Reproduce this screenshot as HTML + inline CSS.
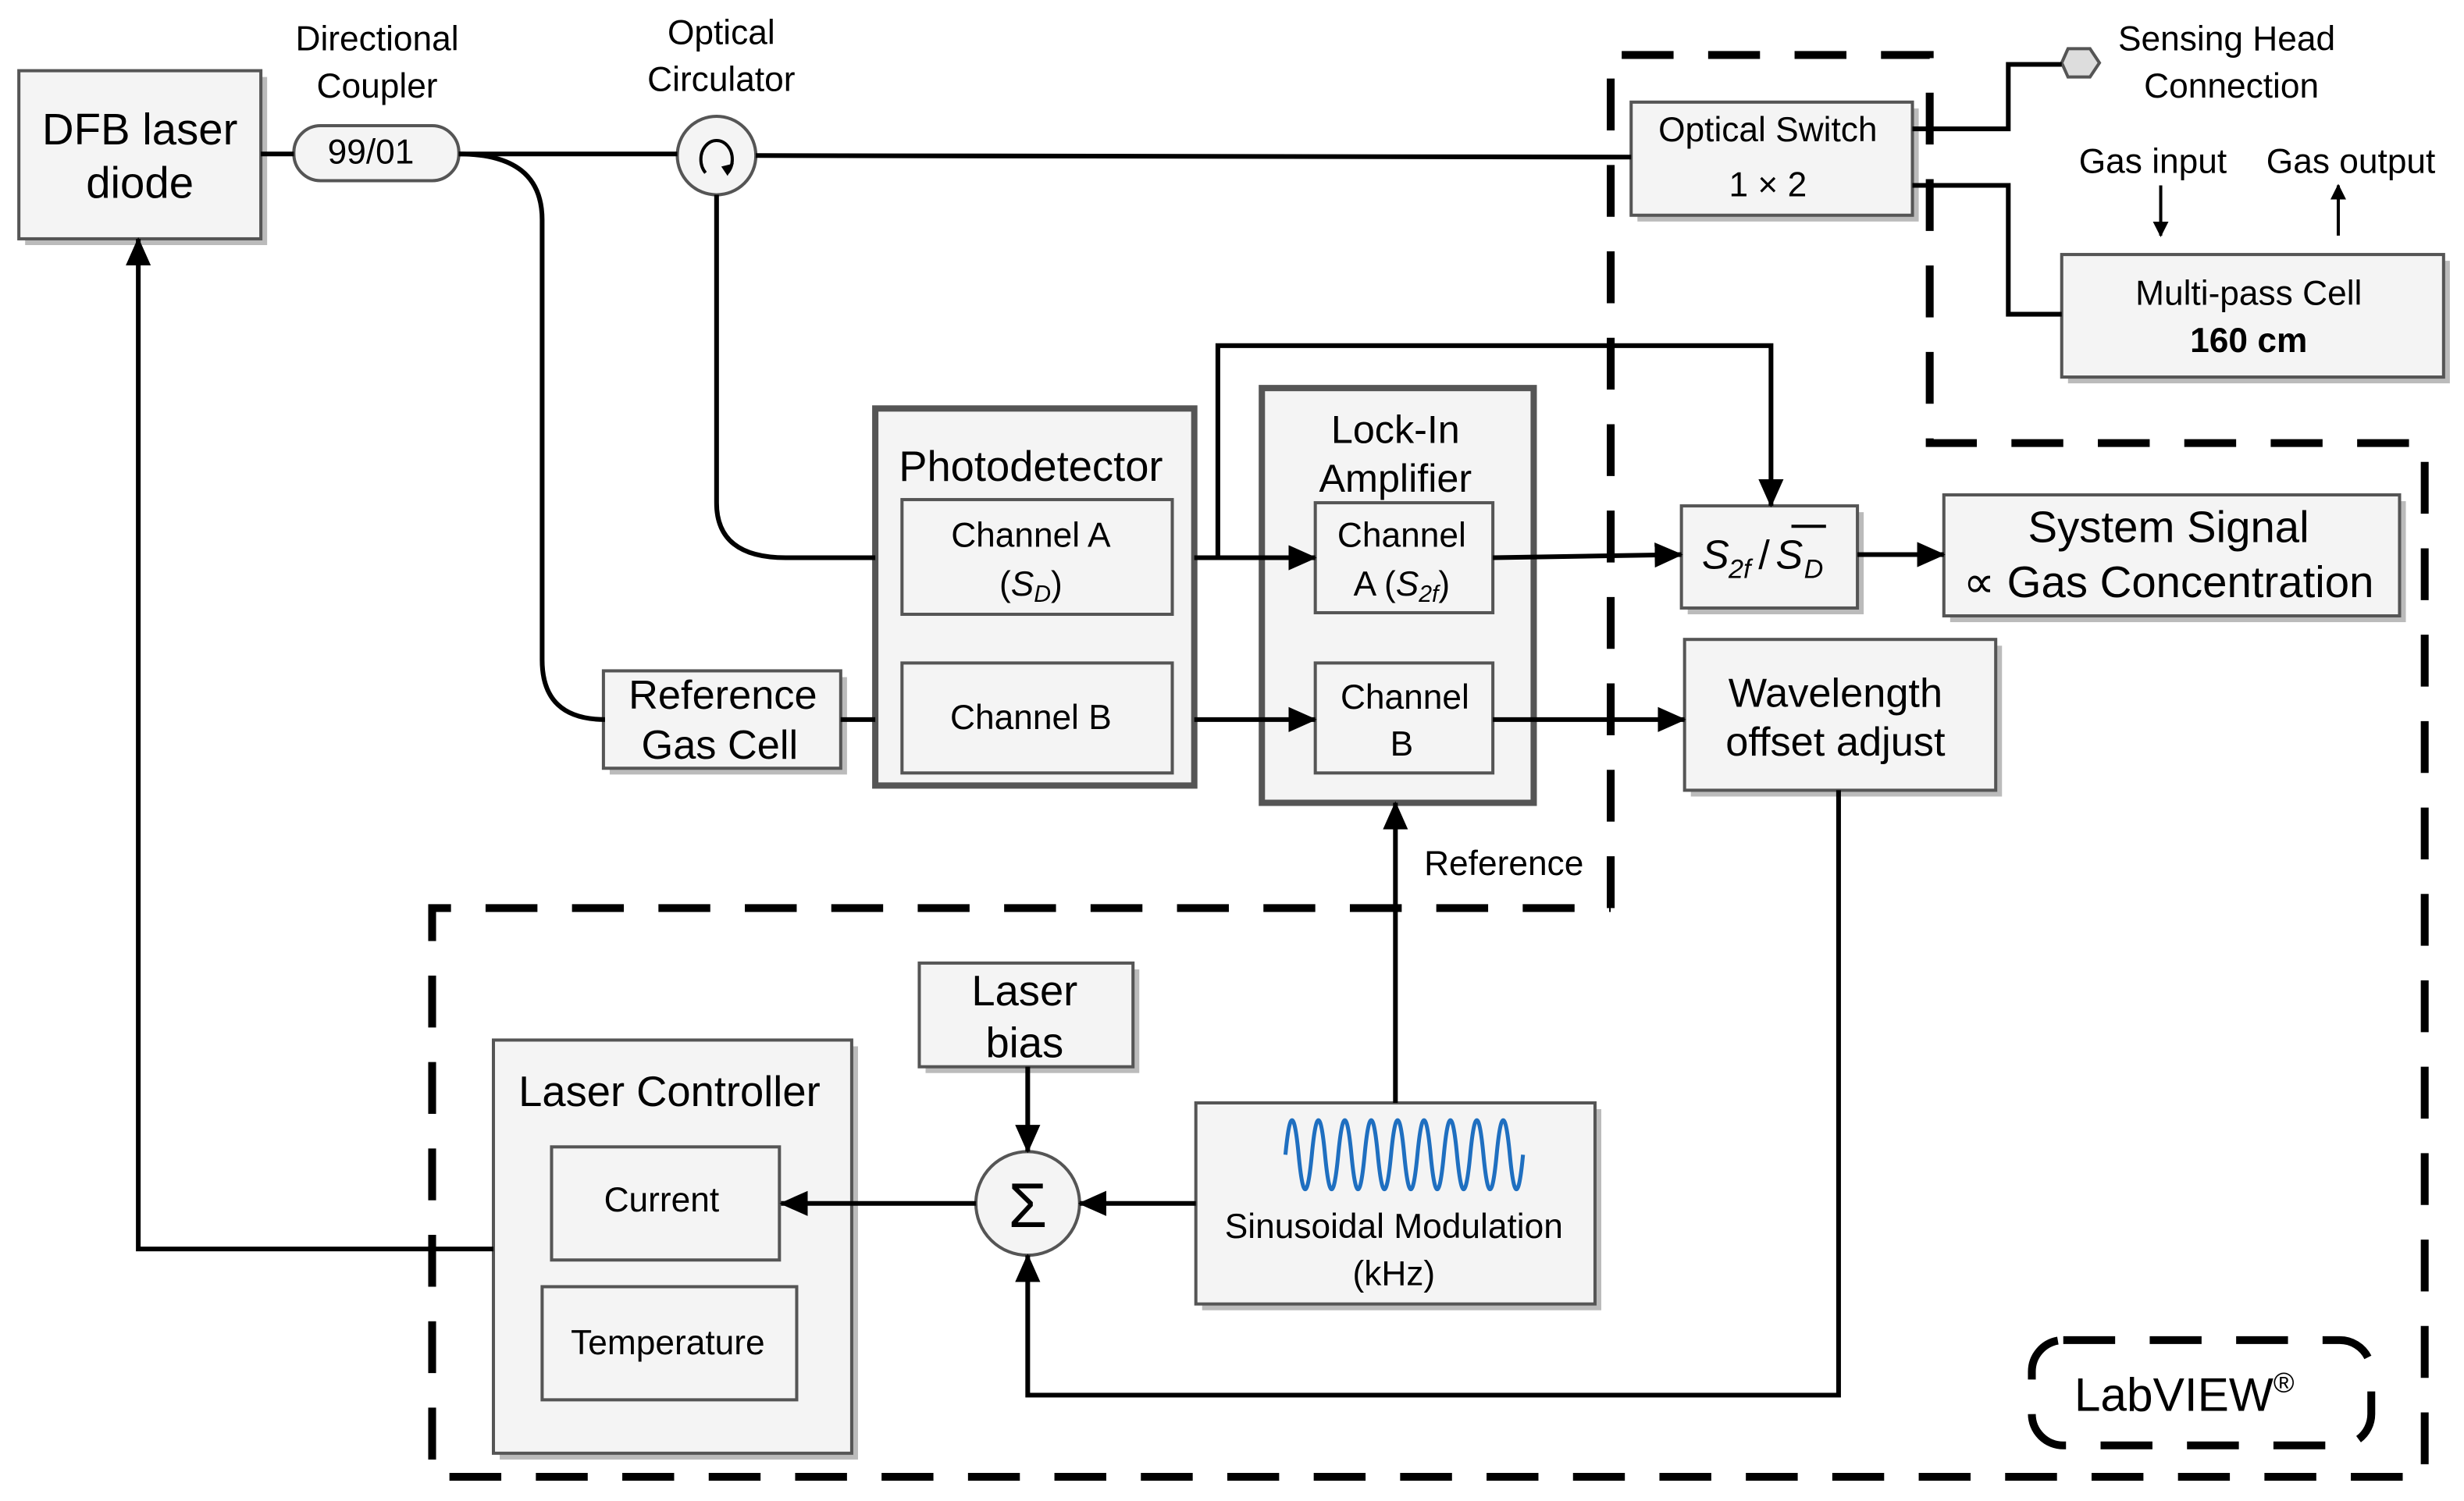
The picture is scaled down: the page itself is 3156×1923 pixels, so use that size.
<!DOCTYPE html>
<html><head><meta charset="utf-8"><style>html,body{margin:0;padding:0;background:#fff}svg{display:block}</style></head>
<body>
<svg xmlns="http://www.w3.org/2000/svg" width="3156" height="1923" viewBox="0 0 1568 955.4" font-family="Liberation Sans, sans-serif" text-anchor="middle">
<defs>
<marker id="a" markerWidth="10" markerHeight="10" refX="9" refY="5" orient="auto" markerUnits="userSpaceOnUse" viewBox="0 0 10 10"><path d="M0,0 L10,5 L0,10 z" fill="#000"/></marker>
<marker id="b" markerWidth="18" markerHeight="18" refX="17" refY="9" orient="auto" markerUnits="userSpaceOnUse" viewBox="0 0 18 18"><path d="M0,1 L18,9 L0,17 z" fill="#000"/></marker>
</defs>
<rect width="1568" height="955.4" fill="#fff"/>
<g fill="none" stroke="#000" stroke-width="5" stroke-dasharray="33 22">
<polyline points="1025,578 1025,35 1228,35 1228,282 1543,282 1543,940 275,940 275,578 1025,578"/>
<rect x="1293" y="853" width="216" height="67" rx="20"/>
</g>
<g stroke="#555" stroke-width="2" fill="#f4f4f4">
<g fill="#bbb" stroke="none">
<rect x="16" y="49" width="154" height="107"/><rect x="388" y="431" width="151" height="62"/>
<rect x="1042" y="69" width="179" height="72"/><rect x="1316" y="166" width="243" height="78"/>
<rect x="1074" y="326" width="112" height="65"/><rect x="1241" y="319" width="290" height="77"/>
<rect x="1076" y="411" width="198" height="96"/><rect x="589" y="617" width="136" height="66"/>
<rect x="765" y="706" width="254" height="128"/><rect x="318" y="666" width="228" height="263"/>
<rect x="578" y="322" width="172" height="73"/><rect x="578" y="426" width="172" height="70"/>
<rect x="841" y="324" width="113" height="70"/><rect x="841" y="426" width="113" height="70"/>
<rect x="355" y="734" width="145" height="72"/><rect x="349" y="823" width="162" height="72"/>
</g>
<rect x="12" y="45" width="154" height="107"/>
<rect x="187" y="80" width="105" height="35" rx="17"/>
<rect x="384" y="427" width="151" height="62"/>
<rect x="557" y="260" width="203" height="240" stroke-width="4"/>
<rect x="803" y="247" width="173" height="264" stroke-width="4"/>
<rect x="574" y="318" width="172" height="73"/><rect x="574" y="422" width="172" height="70"/>
<rect x="837" y="320" width="113" height="70"/><rect x="837" y="422" width="113" height="70"/>
<rect x="1038" y="65" width="179" height="72"/><rect x="1312" y="162" width="243" height="78"/>
<rect x="1070" y="322" width="112" height="65"/><rect x="1237" y="315" width="290" height="77"/>
<rect x="1072" y="407" width="198" height="96"/><rect x="585" y="613" width="136" height="66"/>
<rect x="761" y="702" width="254" height="128"/><rect x="314" y="662" width="228" height="263"/>
<rect x="351" y="730" width="145" height="72"/><rect x="345" y="819" width="162" height="72"/>
<circle cx="456" cy="99" r="25"/><circle cx="654" cy="766" r="33"/>
<polygon points="1316,31 1330,31 1336,40 1330,49 1316,49 1312,40" fill="#ddd"/>
</g>
<g fill="none" stroke="#000" stroke-width="3">
<line x1="166" y1="98" x2="187" y2="98"/><line x1="292" y1="98" x2="431" y2="98"/>
<line x1="481" y1="99" x2="1038" y2="100"/>
<path d="M292,98 Q345,98 345,140 L345,420 Q345,458 385,458"/>
<path d="M456,124 L456,320 Q456,355 500,355 L557,355"/>
<line x1="535" y1="458" x2="557" y2="458"/>
<line x1="760" y1="355" x2="837" y2="355" marker-end="url(#b)"/>
<line x1="760" y1="458" x2="837" y2="458" marker-end="url(#b)"/>
<polyline points="775,355 775,220 1127,220 1127,322" marker-end="url(#b)"/>
<line x1="950" y1="355" x2="1070" y2="353" marker-end="url(#b)"/>
<line x1="1182" y1="353" x2="1237" y2="353" marker-end="url(#b)"/>
<line x1="950" y1="458" x2="1072" y2="458" marker-end="url(#b)"/>
<polyline points="1170,503 1170,888 654,888 654,799" marker-end="url(#b)"/>
<line x1="888" y1="702" x2="888" y2="511" marker-end="url(#b)"/>
<line x1="654" y1="679" x2="654" y2="733" marker-end="url(#b)"/>
<line x1="761" y1="766" x2="687" y2="766" marker-end="url(#b)"/>
<line x1="621" y1="766" x2="497" y2="766" marker-end="url(#b)"/>
<polyline points="314,795 88,795 88,152" marker-end="url(#b)"/>
<polyline points="1217,82 1278,82 1278,41 1312,41"/>
<polyline points="1217,118 1278,118 1278,200 1312,200"/>
<line x1="1375" y1="118" x2="1375" y2="150" stroke-width="2" marker-end="url(#a)"/>
<line x1="1488" y1="150" x2="1488" y2="118" stroke-width="2" marker-end="url(#a)"/>
<path d="M449,110 A10,12 0 1,1 463,110" stroke-width="2"/>
<path d="M818,735 q4.2,-44 8.4,0 t8.4,0 t8.4,0 t8.4,0 t8.4,0 t8.4,0 t8.4,0 t8.4,0 t8.4,0 t8.4,0 t8.4,0 t8.4,0 t8.4,0 t8.4,0 t8.4,0 t8.4,0 t8.4,0 t8.4,0" stroke="#1f6fc0" stroke-width="2.5"/>
</g>
<polygon points="463,112 467,104 459,106" fill="#000"/>
<g font-size="22" fill="#000">
<text x="89" y="92" font-size="28">DFB laser</text><text x="89" y="126" font-size="28">diode</text>
<text x="240" y="32">Directional</text><text x="240" y="62">Coupler</text>
<text x="236" y="104">99/01</text>
<text x="459" y="28">Optical</text><text x="459" y="58">Circulator</text>
<text x="1125" y="90">Optical Switch</text><text x="1125" y="125">1 × 2</text>
<text x="1417" y="32">Sensing Head</text><text x="1420" y="62">Connection</text>
<text x="1370" y="110">Gas input</text><text x="1496" y="110">Gas output</text>
<text x="1431" y="194">Multi-pass Cell</text><text x="1431" y="224" font-weight="bold">160 cm</text>
<text x="656" y="306" font-size="27">Photodetector</text>
<text x="656" y="348">Channel A</text><text x="656" y="379">(<tspan font-style="italic">S</tspan><tspan font-style="italic" font-size="15" dy="4">D</tspan><tspan dy="-4">)</tspan></text>
<text x="656" y="464">Channel B</text>
<text x="888" y="282" font-size="25">Lock-In</text><text x="888" y="313" font-size="25">Amplifier</text>
<text x="892" y="348">Channel</text><text x="892" y="379">A (<tspan font-style="italic">S</tspan><tspan font-size="15" dy="4" font-style="italic">2f</tspan><tspan dy="-4">)</tspan></text>
<text x="894" y="451">Channel</text><text x="892" y="481">B</text>
<text x="460" y="451" font-size="26">Reference</text><text x="458" y="483" font-size="26">Gas Cell</text>
<g font-size="26" font-style="italic" text-anchor="start">
<text x="1083" y="362">S</text><text x="1100" y="368" font-size="17">2f</text>
<text x="1119" y="362" font-style="normal">/</text><text x="1130" y="362">S</text><text x="1148" y="368" font-size="17">D</text>
</g>
<line x1="1140" y1="335" x2="1162" y2="335" stroke="#000" stroke-width="2"/>
<text x="1380" y="345" font-size="28">System Signal</text><text x="1380" y="380" font-size="28">∝ Gas Concentration</text>
<text x="1168" y="450" font-size="26">Wavelength</text><text x="1168" y="481" font-size="26">offset adjust</text>
<text x="957" y="557">Reference</text>
<text x="652" y="640" font-size="27">Laser</text><text x="652" y="673" font-size="27">bias</text>
<text x="654" y="781" font-size="40">Σ</text>
<text x="887" y="788">Sinusoidal Modulation</text><text x="887" y="818">(kHz)</text>
<text x="426" y="704" font-size="27">Laser Controller</text>
<text x="421" y="771">Current</text><text x="425" y="862">Temperature</text>
<text x="1390" y="898" font-size="30">LabVIEW<tspan font-size="18" dy="-12">®</tspan></text>
</g>
</svg>
</body></html>
